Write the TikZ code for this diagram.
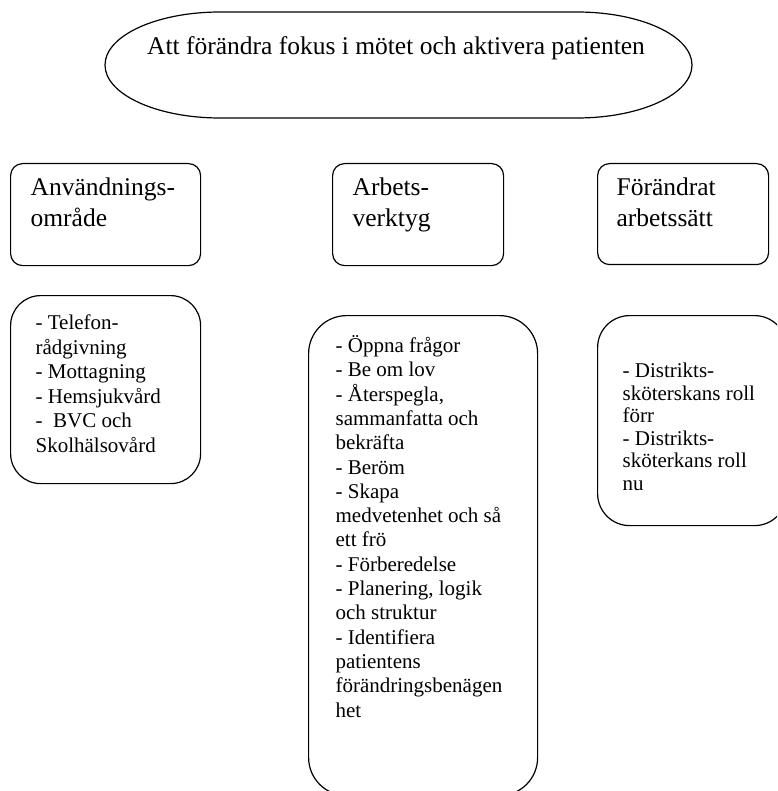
\documentclass[tikz,border=0pt]{standalone}
\usepackage{fontspec}
\setmainfont{Liberation Serif}

\begin{document}
\begin{tikzpicture}[x=1pt, y=-1pt, line width=1.2pt]
	\tikzstyle{head} = [draw, rounded corners=12pt, anchor=north west, inner sep=0pt]
	\tikzstyle{list} = [draw, anchor=north west, inner sep=0pt]
	\tikzstyle{big} = [anchor=base west, align=left, inner sep=0pt, font=\fontsize{25.5}{31}\selectfont]
	\tikzstyle{small} = [anchor=base west, align=left, inner sep=0pt, font=\fontsize{21}{24.5}\selectfont]
	
	\clip (0,0) rectangle (777,791);
	
	% title
	\draw (105,65) arc[start angle=180, end angle=90, x radius=115, y radius=53] -- (577,118)
		arc[start angle=90, end angle=0, x radius=115, y radius=53]
		arc[start angle=0, end angle=-90, x radius=115, y radius=53] -- (220,12)
		arc[start angle=-90, end angle=-180, x radius=115, y radius=53];
	\node[anchor=base, inner sep=0pt, font=\fontsize{25.5}{31}\selectfont] at (396,55) (title) {Att förändra fokus i mötet och aktivera patienten};
	
	% boxes
	\node[head, minimum width=190pt, minimum height=102pt] 	at (10,163) 	(omr) 		{};
	\node[head, minimum width=171pt, minimum height=102pt] 	at (332,163) 	(verk) 		{};
	\node[head, minimum width=171pt, minimum height=101pt] 	at (597,163) 	(satt) 		{};
	\node[list, rounded corners=30pt, minimum width=190pt, minimum height=188pt] 	at (10,295) 	(omrlist) 	{};
	\node[list, rounded corners=38pt, minimum width=229pt, minimum height=480pt] 	at (308,315) 	(verklist) 	{};
	\node[list, rounded corners=32pt, minimum width=189pt, minimum height=210pt] 	at (597,315) 	(sattlist) 	{};
	
	% texts (base = last line)
	\node[big] 		at (30,227) 	(omrtxt) 	{Användnings-\\område};
	\node[big] 		at (352,227) 	(verktxt) 	{Arbets-\\verktyg};
	\node[big] 		at (616,227) 	(satttxt) 	{Förändrat\\arbetssätt};
	\node[small] 	at (35,452) 	(omrlisttxt) 	{- Telefon-\\rådgivning\\- Mottagning\\- Hemsjukvård\\-\ \ BVC och\\Skolhälsovård};
	\node[small, font=\fontsize{21}{24.3}\selectfont] at (335,717) (verklisttxt) {- Öppna frågor\\- Be om lov\\- Återspegla,\\sammanfatta och\\bekräfta\\- Beröm\\- Skapa\\medvetenhet och så\\ett frö\\- Förberedelse\\- Planering, logik\\och struktur\\- Identifiera\\patientens\\förändringsbenägen\\het};
	\node[small, font=\fontsize{21}{22.5}\selectfont] at (622,490) (sattlisttxt) {- Distrikts-\\sköterskans roll\\förr\\- Distrikts-\\sköterkans roll\\nu};
\end{tikzpicture}
\end{document}
